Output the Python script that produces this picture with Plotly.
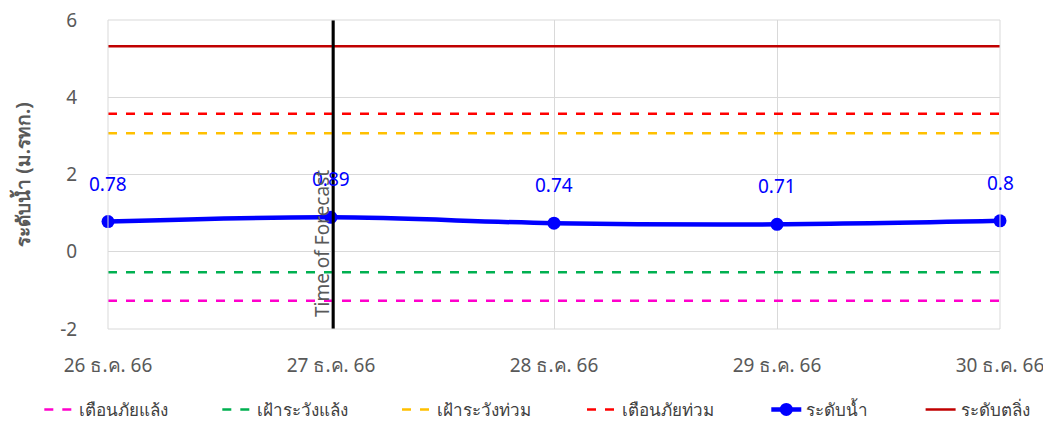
import plotly.graph_objects as go

dates = ["26 ธ.ค. 66", "27 ธ.ค. 66", "28 ธ.ค. 66", "29 ธ.ค. 66", "30 ธ.ค. 66"]
water_level = [0.78, 0.89, 0.74, 0.71, 0.8]
drought_alert = [-1.27] * 5
drought_watch = [-0.53] * 5
flood_watch = [3.07] * 5
flood_alert = [3.57] * 5
bank_level = [5.32] * 5
forecast_date = "27 ธ.ค. 66"
y_ticks = [-2, 0, 2, 4, 6]
y_ticktext = ["-2", "0", "2", "4", "6"]

font_family = "Noto Sans, Tahoma, sans-serif"
grey = "#595959"

fig = go.Figure()

thresholds = [
    ("เตือนภัยแล้ง", drought_alert, "#FF00CC", "legend"),
    ("เฝ้าระวังแล้ง", drought_watch, "#00B050", "legend"),
    ("เฝ้าระวังท่วม", flood_watch, "#FFC000", "legend4"),
    ("เตือนภัยท่วม", flood_alert, "#FF0000", "legend4"),
]
for name, values, color, leg in thresholds:
    fig.add_trace(go.Scatter(
        x=dates, y=values, mode="lines", name=name, legend=leg,
        line=dict(color=color, width=2.5, dash="dash"),
    ))

fig.add_trace(go.Scatter(
    x=dates, y=water_level, mode="lines+markers", name="ระดับน้ำ", legend="legend2",
    line=dict(color="#0000FF", width=4.5, shape="spline"),
    marker=dict(size=13, color="#0000FF"),
    cliponaxis=False,
))
fig.add_trace(go.Scatter(
    x=dates, y=bank_level, mode="lines", name="ระดับตลิ่ง", legend="legend3",
    line=dict(color="#C00000", width=2.5),
))

# data labels above the water level points
for d, v in zip(dates, water_level):
    fig.add_annotation(x=d, y=v, text=str(v), showarrow=False, yshift=38,
                       font=dict(size=19, color="#0000FF"))

# vertical marker for forecast time
fig.add_shape(type="line", xref="x", yref="paper", x0=1.01, x1=1.01, y0=0, y1=1,
              line=dict(color="black", width=3))
fig.add_annotation(x=forecast_date, y=0.2, xref="x", yref="y", text="Time of Forecast",
                   textangle=-90, showarrow=False, xshift=-9,
                   font=dict(size=19, color=grey))

legend_style = dict(orientation="h", yref="container", yanchor="middle", y=0.027,
                    xanchor="left", font=dict(size=17, color="#404040"),
                    entrywidthmode="pixels", tracegroupgap=0, bgcolor="rgba(0,0,0,0)")

# page body adds an 8px offset, so the figure is sized/margined to compensate
fig.update_layout(
    width=1043, height=413,
    plot_bgcolor="white", paper_bgcolor="white",
    margin=dict(l=100, r=51, t=12, b=92),
    font=dict(family=font_family, color=grey, size=16),
    showlegend=True,
    legend=dict(x=-0.077, entrywidth=133, **legend_style),
    legend4=dict(x=0.324, entrywidth=140, **legend_style),
    legend2=dict(x=0.738, **legend_style),
    legend3=dict(x=0.911, **legend_style),
    xaxis=dict(
        type="category", range=[0, 4], showgrid=True, gridcolor="#D9D9D9",
        ticks="outside", ticklen=19, tickcolor="white", zeroline=False,
        showline=False, tickfont=dict(size=19, color=grey), automargin=False,
        ticklabeloverflow="allow",
    ),
    yaxis=dict(
        range=[-2, 6], tickvals=y_ticks, ticktext=y_ticktext, showgrid=True,
        gridcolor="#D9D9D9", zeroline=False, automargin=False,
        ticks="outside", ticklen=26, tickcolor="white", ticklabeloverflow="allow",
        title=dict(text="<b>ระดับน้ำ (ม.รทก.)</b>", font=dict(size=19, color=grey), standoff=24),
        tickfont=dict(size=19, color=grey),
    ),
)
fig.add_shape(type="rect", xref="paper", yref="paper", x0=0, x1=1, y0=0, y1=1,
              line=dict(color="#D9D9D9", width=1))

fig.write_html("out.html")
